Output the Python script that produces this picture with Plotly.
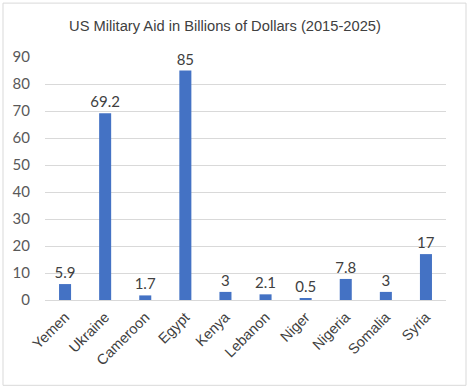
import plotly.graph_objects as go

countries = ["Yemen", "Ukraine", "Cameroon", "Egypt", "Kenya", "Lebanon", "Niger", "Nigeria", "Somalia", "Syria"]
aid = [5.9, 69.2, 1.7, 85, 3, 2.1, 0.5, 7.8, 3, 17]
y_ticks = [0, 10, 20, 30, 40, 50, 60, 70, 80, 90]

W, H = 470, 390
L, R, T, B = 45, 24, 57, 89.5
pw, ph = W - L - R, H - T - B

fig = go.Figure(go.Bar(
    x=countries, y=aid, width=0.3,
    marker=dict(color="#4472C4", line=dict(width=0)),
    text=[str(v) for v in aid], textposition="outside",
    textfont=dict(family="Lato, Open Sans, sans-serif", size=15, color="#404040"),
    constraintext="none",
    cliponaxis=False,
    hoverinfo="skip",
))

fig.update_layout(
    width=W, height=H,
    margin=dict(l=L, r=R, t=T, b=B, autoexpand=False),
    paper_bgcolor="white", plot_bgcolor="white",
    showlegend=False,
    bargap=0.7,
    title=dict(text="US Military Aid in Billions of Dollars (2015-2025)",
               x=225 / W, xanchor="center", y=1 - 26 / H, yanchor="middle",
               font=dict(family="Liberation Sans, Arial, sans-serif", size=14.7, color="#404040")),
    xaxis=dict(tickangle=-45, showgrid=False, showline=True, linecolor="#D9D9D9",
               tickfont=dict(family="Liberation Sans, Arial, sans-serif", size=14.5, color="#404040"),
               ticks="", automargin=False, ticklabelstandoff=2),
    yaxis=dict(range=[0, 90], tickvals=y_ticks, showgrid=True, gridcolor="#D9D9D9",
               zeroline=False, showline=False, ticks="", automargin=False,
               tickfont=dict(family="Lato, Open Sans, sans-serif", size=15, color="#595959"),
               ticklabelstandoff=14),
    shapes=[dict(type="rect", xref="paper", yref="paper",
                 x0=(3 - L) / pw, x1=(466 - L) / pw,
                 y0=-(386 - (H - B)) / ph, y1=1 + (T - 3) / ph,
                 line=dict(color="#D9D9D9", width=1), layer="below")],
)

fig.write_html("out.html", config={"displayModeBar": False},
               post_script="document.body.style.margin='0';document.body.style.overflow='hidden';")
